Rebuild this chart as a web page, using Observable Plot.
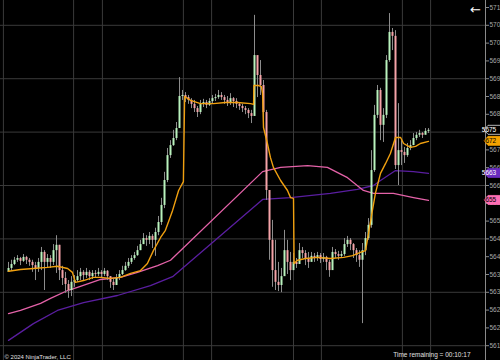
<!DOCTYPE html>
<html>
<head>
<meta charset="utf-8">
<script src="https://cdn.jsdelivr.net/npm/d3@7"></script>
<script src="https://cdn.jsdelivr.net/npm/@observablehq/plot@0.6"></script>
<style>
  html, body { margin: 0; padding: 0; background: #000; }
  #chart { width: 500px; height: 360px; overflow: hidden; }
</style>
</head>
<body>
<div id="chart"></div>
<script>
// ---- Candles (one bar per index) ----
const firstOpen = 5635.6;
const closes = [
  5636.7,5637.8,5639.0,5639.5,5638.7,5639.8,5639.0,5638.4,5637.5,5636.7,
  5638.4,5641.2,5638.4,5639.5,5638.4,5641.7,5643.2,5636.1,5633.9,5632.2,
  5630.5,5632.8,5633.3,5634.4,5635.6,5634.7,5635.6,5634.4,5635.3,5635.0,
  5635.6,5635.0,5635.9,5634.4,5632.8,5631.9,5633.9,5635.0,5636.1,5637.3,
  5638.4,5639.5,5640.3,5641.7,5643.4,5645.1,5644.6,5645.7,5644.6,5646.8,
  5649.6,5654.4,5661.4,5668.4,5671.2,5673.2,5676.0,5685.0,5685.3,5684.7,
  5683.9,5682.8,5681.6,5680.5,5682.8,5683.3,5682.5,5683.6,5684.4,5684.7,
  5685.3,5684.7,5683.9,5683.3,5684.4,5683.6,5682.8,5682.2,5681.6,5681.1,
  5680.2,5679.4,5696.5,5690.9,5688.1,5680.5,5658.6,5644.6,5636.1,5632.8,
  5631.9,5634.4,5641.7,5638.4,5636.1,5638.4,5637.8,5641.7,5640.9,5639.5,
  5638.4,5640.1,5639.5,5640.3,5639.2,5639.8,5638.4,5636.1,5641.2,5640.6,
  5640.1,5640.6,5643.4,5644.6,5643.4,5641.7,5640.3,5639.0,5641.7,5645.1,
  5648.8,5664.2,5679.7,5686.7,5676.9,5679.7,5695.1,5703.0,5701.9,5665.6,
  5669.8,5669.3,5668.4,5670.4,5671.2,5673.2,5674.1,5674.6,5674.1,5675.2,
  5675.5
];
const highs = [
  5638.4,5639.0,5639.8,5640.3,5639.8,5640.6,5640.1,5639.5,5639.0,5638.4,
  5639.5,5642.6,5641.7,5640.6,5640.3,5643.4,5645.9,5643.2,5637.3,5635.6,
  5633.3,5634.4,5634.7,5636.1,5636.7,5636.1,5636.7,5636.1,5636.1,5636.1,
  5636.7,5636.1,5636.7,5636.1,5634.4,5633.9,5635.0,5636.1,5637.3,5638.4,
  5639.5,5640.3,5641.2,5642.9,5644.6,5646.5,5645.9,5646.8,5646.2,5648.0,
  5651.3,5656.4,5663.7,5670.4,5672.6,5675.5,5677.7,5690.3,5686.7,5686.1,
  5685.3,5684.4,5683.9,5682.2,5683.9,5684.2,5683.9,5684.4,5685.3,5685.6,
  5686.7,5686.1,5685.3,5685.0,5685.8,5684.7,5684.4,5683.3,5682.8,5682.2,
  5681.6,5681.1,5707.8,5693.7,5695.1,5689.5,5681.1,5657.2,5650.2,5644.6,
  5638.4,5636.7,5647.4,5644.6,5641.2,5640.9,5639.5,5643.7,5642.6,5641.7,
  5641.2,5641.2,5640.9,5641.2,5640.9,5640.9,5640.1,5639.0,5642.6,5642.0,
  5641.5,5641.5,5645.1,5645.7,5645.1,5643.7,5642.3,5641.7,5643.7,5646.8,
  5650.7,5669.8,5682.5,5688.1,5687.3,5681.6,5696.5,5708.3,5704.1,5703.5,
  5683.0,5672.6,5670.7,5671.8,5672.6,5674.6,5674.9,5675.5,5674.9,5676.0,
  5676.0
];
const lows = [
  5635.6,5636.1,5637.5,5638.4,5637.5,5638.4,5637.8,5637.3,5635.6,5633.3,
  5635.6,5636.1,5630.5,5636.7,5636.7,5637.5,5635.3,5633.3,5631.9,5629.7,
  5628.3,5628.8,5631.4,5632.8,5633.3,5633.3,5633.9,5633.3,5633.6,5633.9,
  5634.4,5633.9,5634.4,5633.3,5631.1,5630.5,5632.2,5633.3,5634.7,5635.9,
  5636.7,5637.8,5639.0,5640.1,5641.7,5643.4,5642.9,5643.4,5642.3,5640.1,
  5645.9,5648.8,5653.5,5660.8,5667.6,5671.0,5672.6,5676.0,5683.9,5683.3,
  5682.8,5681.6,5680.5,5679.1,5679.9,5681.9,5681.6,5682.2,5683.0,5683.6,
  5684.2,5683.9,5682.8,5682.2,5682.5,5681.9,5681.6,5681.1,5680.5,5679.9,
  5678.8,5677.4,5679.4,5684.7,5685.3,5678.3,5655.8,5639.0,5631.4,5630.5,
  5630.2,5629.9,5636.1,5635.0,5633.3,5636.1,5636.7,5638.4,5639.5,5637.5,
  5636.7,5638.7,5638.4,5638.7,5638.1,5638.4,5636.1,5634.2,5638.4,5639.5,
  5639.0,5639.5,5640.1,5642.6,5641.7,5639.5,5638.4,5637.0,5621.2,5640.3,
  5644.6,5648.0,5663.7,5678.8,5672.6,5672.1,5678.8,5694.6,5697.9,5664.5,
  5660.0,5665.6,5666.2,5667.9,5669.8,5671.8,5672.6,5673.5,5673.2,5674.3,
  5674.6
];

// ---- Indicator lines (bar index, price) ----
const orangeIdx = [0,4,8.3,13,16.3,19.7,21.3,22.3,25,28.3,30.7,34,37.3,40.7,44,46.3,48.3,50.7,52.3,54.7,56.7,58.3,58.7,60.7,64,68.3,72.3,76.3,80.7,81.7,81.8,83.3,84.3,84.7,85,86.3,87.3,88.3,90.7,93,94,95,95.2,96.3,99,103,107.3,111.7,114.7,117.3,119,120,121.3,122.3,124,125.7,127.3,129,130.7,131.7,134,135.7,137.3,140];
const orangeVal = [5635.9,5636.4,5636.7,5637.0,5637.3,5636.7,5635.6,5632.8,5633.3,5634.2,5634.2,5633.9,5634.2,5635.3,5636.1,5638.1,5641.7,5645.4,5647.4,5653.0,5658.6,5661.1,5685.0,5683.9,5683.0,5683.0,5683.3,5683.3,5683.0,5682.8,5688.1,5688.1,5687.8,5685.8,5676.3,5671.8,5667.9,5665.1,5661.4,5658.6,5656.6,5656.4,5638.1,5639.0,5639.5,5639.8,5639.5,5639.8,5640.3,5641.2,5641.7,5646.5,5653.0,5657.8,5663.4,5666.2,5669.0,5673.5,5673.5,5671.8,5670.7,5671.0,5671.8,5672.4];
const pinkIdx = [0,4,10.7,14,19.7,23,30.7,37.3,43,49.7,54,84.7,90.7,99.7,106.3,113,118.3,121.7,128.3,135,140];
const pinkVal = [5624.0,5624.9,5626.9,5628.3,5630.5,5631.4,5633.6,5634.2,5635.6,5637.5,5639.0,5663.9,5665.1,5665.6,5665.1,5662.2,5658.6,5657.8,5657.8,5656.6,5655.8];
const purpleIdx = [0,8.3,16.3,25,36.3,47.3,54.7,84.7,94,107.3,116.3,121.7,124,129,135,140];
const purpleVal = [5616.5,5621.2,5624.9,5627.1,5629.1,5631.9,5634.4,5656.1,5656.6,5657.8,5658.9,5660.0,5661.4,5664.2,5663.9,5663.4];

// ---- Axis / grid / tags ----
const priceTicks = d3.range(5615, 5711, 5);
const gridPrices = [5615, 5630, 5645, 5660, 5675, 5690, 5705];
const gridIdx = [-1.7, 21.7, 31.3, 58.3, 67.7, 95, 104.3, 131.3, 140.7];
const tagValues = [5675.5, 5672.4, 5663.4, 5655.8];
const tagLabels = ["5675", "5672", "5663", "5655"];
const tagFills = ["#000000", "#f5a300", "#6a2cc0", "#ff6eb4"];
const tagStrokes = ["#e0e0e0", "#f5a300", "#6a2cc0", "#ff6eb4"];
const tagText = ["#ffffff", "#000000", "#ffffff", "#000000"];
const copyright = "© 2024 NinjaTrader, LLC";
const timeText = "Time remaining = 00:10:17";

const bars = closes.map((c, i) => ({
  i, close: c, open: i ? closes[i - 1] : firstOpen, high: highs[i], low: lows[i]
}));
const line = (xs, vs) => xs.map((x, k) => ({x, v: vs[k]}));

const xDomain = [-2.67, 159];
const chart = Plot.plot({
  width: 500, height: 360,
  marginLeft: 0, marginRight: 15, marginTop: 0, marginBottom: 0,
  style: {background: "#000", fontFamily: "Liberation Sans, Arial, sans-serif"},
  x: {domain: xDomain, axis: null},
  y: {domain: [5610.84, 5711.97], axis: null},
  marks: [
    Plot.ruleY(gridPrices, {stroke: "#3a3a3a", strokeWidth: 1}),
    Plot.ruleX(gridIdx, {stroke: "#3a3a3a", strokeWidth: 1}),
    Plot.ruleX([xDomain[1]], {stroke: "#8a8a8a", strokeWidth: 1}),
    Plot.axisY(priceTicks, {anchor: "right", tickSize: 3, tickPadding: 1, fontSize: 6.5, color: "#a8a8a8", stroke: "#8a8a8a", tickFormat: d => String(d)}),
    Plot.line(line(purpleIdx, purpleVal), {x: "x", y: "v", stroke: "#5a1ea0", strokeWidth: 1.3}),
    Plot.line(line(pinkIdx, pinkVal), {x: "x", y: "v", stroke: "#e462a8", strokeWidth: 1.3}),
    Plot.ruleX(bars, {x: "i", y1: "low", y2: "high", stroke: "#8c8c8c", strokeWidth: 1}),
    Plot.ruleX(bars, {x: "i", y1: "open", y2: "close", stroke: d => d.close >= d.open ? "#b9f2bd" : "#f5a3a8", strokeWidth: 2}),
    Plot.line(line(orangeIdx, orangeVal), {x: "x", y: "v", stroke: "#f0a010", strokeWidth: 1.4}),
    Plot.text([copyright], {frameAnchor: "bottom-left", dx: 4, dy: -2, fill: "#e0e0e0", fontSize: 6, textAnchor: "start"}),
    Plot.text([timeText], {frameAnchor: "bottom-right", dx: -15, dy: -4, fill: "#e0e0e0", fontSize: 6.5, textAnchor: "end"}),
    Plot.text(["←"], {frameAnchor: "top-right", dx: -10, dy: 4, fill: "#ffffff", fontSize: 13, fontFamily: "DejaVu Sans", textAnchor: "middle"})
  ]
});
document.getElementById("chart").appendChild(chart);

// price tags on the right axis, positioned with Plot's y scale
const yS = chart.scale("y");
const svg = d3.select(chart);
const g = svg.append("g");
tagValues.forEach((v, k) => {
  const y = yS.apply(v);
  const x0 = 484, h = 4.5;
  g.append("path")
    .attr("d", `M${x0},${y}L${x0 + 4},${y - h}L${x0 + 20},${y - h}L${x0 + 20},${y + h}L${x0 + 4},${y + h}Z`)
    .attr("fill", tagFills[k]).attr("stroke", tagStrokes[k]).attr("stroke-width", 0.8);
  g.append("text").attr("x", x0 + 5).attr("y", y).attr("dy", "0.35em")
    .attr("fill", tagText[k]).attr("font-size", 6.5)
    .attr("font-family", "Liberation Sans, Arial, sans-serif").text(tagLabels[k]);
});
</script>
</body>
</html>
